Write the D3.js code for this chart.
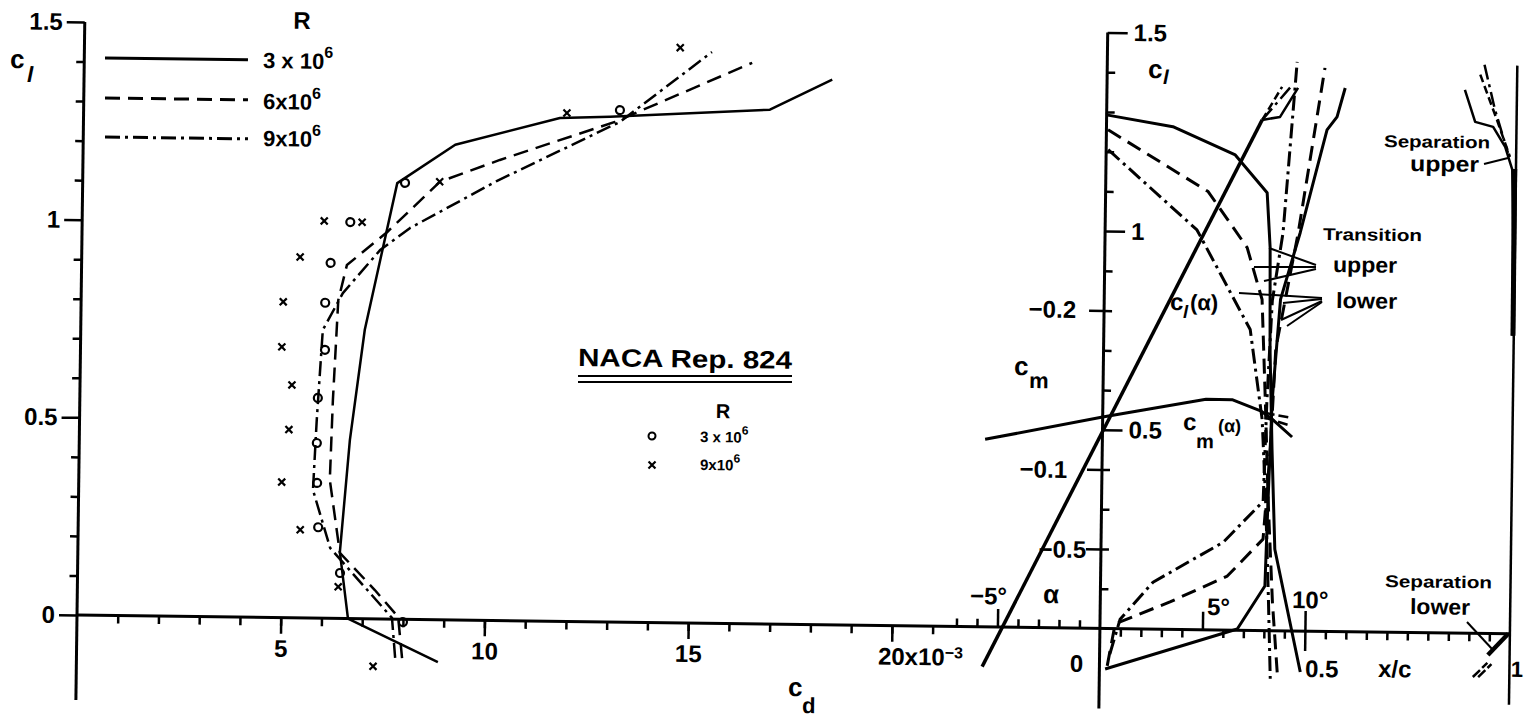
<!DOCTYPE html>
<html>
<head>
<meta charset="utf-8">
<script src="https://cdn.jsdelivr.net/npm/d3@7"></script>
<style>
  body { margin: 0; background: #fff; }
  text { font-family: "Liberation Sans", Arial, sans-serif; font-weight: bold; fill: #000; }
</style>
</head>
<body>
<script>
(function() {
  'use strict';

  var width = 1524, height = 724,
      tilt = 0.75;   // the scanned sheet sits a little turned

  // drag polars: cd (x 1e-3), cl
  var polar3 = [[8.87,-0.107],[6.65,0],[6.43,0.168],[6.64,0.452],[6.97,0.731],[7.72,1.103],[9.13,1.202],[11.69,1.273],[12.92,1.278],[16.84,1.301],[18.36,1.379]];
  var polar6 = [[7.99,-0.098],[7.88,0.006],[7.30,0.073],[6.43,0.166],[6.16,0.35],[6.21,0.552],[6.31,0.805],[6.51,0.894],[7.49,0.979],[8.77,1.108],[10.23,1.165],[13.04,1.265],[16.39,1.419]];
  var polar9 = [[7.82,-0.098],[7.73,0.003],[6.19,0.178],[5.75,0.324],[5.82,0.501],[5.94,0.729],[6.42,0.823],[7.32,0.933],[8.05,0.99],[10.17,1.112],[13.16,1.265],[15.4,1.445]];

  // NACA Rep. 824 test points
  var test3 = [[7.91,1.104],[6.58,1.003],[6.11,0.899],[5.99,0.798],[6.0,0.679],[5.84,0.557],[5.83,0.443],[5.85,0.342],[5.89,0.23],[6.44,0.115],[8.0,-0.007],[13.16,1.295]];
  var test9 = [[6.87,1.003],[5.94,1.005],[5.36,0.913],[4.96,0.799],[4.94,0.685],[5.2,0.589],[5.14,0.476],[4.98,0.343],[5.45,0.223],[6.4,0.08],[7.28,-0.12],[8.76,1.108],[11.86,1.286],[14.62,1.455]];

  // alpha (deg) vs cl and cm
  var clAlpha  = [[-5.72,-0.10],[7.59,1.285]];
  var clAlpha3 = [[7.59,1.285],[8.46,1.293],[9.32,1.367]];
  var clAlpha6 = [[7.59,1.285],[8.54,1.369]];
  var clAlpha9 = [[7.59,1.285],[8.93,1.367]];
  var cmAlpha3 = [[-5.72,-0.118],[0,-0.133],[5.03,-0.145],[6.3,-0.145],[7.73,-0.138],[8.28,-0.133],[9.25,-0.122]];
  var cmAlpha6 = [[7.9,-0.137],[9.2,-0.134]];
  var cmAlpha9 = [[7.9,-0.134],[9.2,-0.129]];

  // transition and separation: x/c, cl
  var transUpper3 = [[0.003,1.292],[0.162,1.265],[0.315,1.196],[0.394,1.102],[0.403,0.964],[0.406,0.708],[0.414,0.457],[0.424,0.205],[0.49,-0.103]];
  var transLower3 = [[0.014,-0.102],[0.301,-0.008],[0.335,0.003],[0.401,0.112],[0.406,0.331],[0.413,0.582],[0.43,0.834],[0.476,1.003],[0.506,1.129],[0.538,1.262],[0.562,1.295],[0.581,1.368]];
  var transUpper6 = [[0.004,1.255],[0.25,1.103],[0.347,0.963],[0.385,0.833],[0.396,0.582],[0.406,0.331],[0.42,0.07],[0.435,-0.12]];
  var transLower6 = [[0.019,-0.094],[0.037,0.012],[0.17,0.069],[0.309,0.136],[0.395,0.23],[0.41,0.46],[0.42,0.71],[0.471,1.002],[0.531,1.418]];
  var transUpper9 = [[0.005,1.205],[0.224,1.006],[0.357,0.757],[0.389,0.531],[0.40,0.33],[0.41,0.08],[0.417,-0.121]];
  var transLower9 = [[0.025,-0.064],[0.049,0.024],[0.128,0.118],[0.298,0.221],[0.394,0.325],[0.40,0.58],[0.41,0.83],[0.434,1.002],[0.463,1.432]];
  var sepUpper3 = [[0.873,1.367],[0.899,1.287],[0.943,1.275],[0.973,1.225],[0.991,1.168],[0.995,0.992],[0.997,0.75]];
  var sepUpper6 = [[0.91,1.406],[0.952,1.293],[0.985,1.2]];
  var sepUpper9 = [[0.92,1.431],[0.947,1.318],[0.98,1.21]];
  var sepLower3 = [[0.996,0],[0.947,-0.054]];
  var sepLower6 = [[0.911,-0.11],[0.946,-0.074]];
  var sepLower9 = [[0.924,-0.11],[0.956,-0.077]];

  // ticks
  var cdTicks = d3.range(1, 22), cdLabels = [5, 10, 15, 20];
  var clMinor = d3.range(1, 15).filter(function(i) { return i % 5; }).map(function(i) { return i / 10; });
  var clLabels = [0, 0.5, 1, 1.5];
  var alphaMinor = [-7, -6, -4, -3, -2, -1];
  var xcMinor = d3.range(1, 20).filter(function(i) { return i !== 5 && i !== 10; }).map(function(i) { return i / 20; });
  var cmTicks = [-0.2, -0.1, -0.05];

  var svg = d3.select("body").append("svg")
              .attr("width", width)
              .attr("height", height);
  var g = svg.append("g").attr("transform", "rotate(" + tilt + ",76,615)");

  var x  = d3.scaleLinear().domain([0, 20]).range([77, 892]),
      y  = d3.scaleLinear().domain([0, 1.5]).range([615, 22]),
      a  = d3.scaleLinear().domain([0, 10]).range([1100, 1305]),
      xc = d3.scaleLinear().domain([0, 1]).range([1100, 1510]),
      y2 = d3.scaleLinear().domain([0, 1.5]).range([615, 19]),
      cm = d3.scaleLinear().domain([0, -0.25]).range([615, y2(1)]);

  var dashed = "15,8", dashdot = "15,5,3,5";

  // page position -> position inside the turned group
  function un(px, py) {
    var t = tilt * Math.PI / 180, dx = px - 76, dy = py - 615;
    return [76 + dx * Math.cos(t) + dy * Math.sin(t), 615 - dx * Math.sin(t) + dy * Math.cos(t)];
  }
  function note(px, py, s, size, anchor) {
    var p = un(px, py);
    return g.append("text").attr("x", p[0]).attr("y", p[1])
            .attr("font-size", size).attr("text-anchor", anchor || "start").text(s);
  }
  function sup(t, s, size, dy) {
    t.append("tspan").attr("font-size", size).attr("dy", dy).text(s);
    return t;
  }
  function rule(x1, y1, x2, y2_, w) {
    var p = un(x1, y1), q = un(x2, y2_);
    g.append("line").attr("x1", p[0]).attr("y1", p[1]).attr("x2", q[0]).attr("y2", q[1])
     .attr("stroke", "#000").attr("stroke-width", w || 2);
  }
  function curve(data, xs, ys, dash, w) {
    g.append("path").datum(data)
     .attr("d", d3.line().x(function(d) { return xs(d[0]); }).y(function(d) { return ys(d[1]); }))
     .attr("fill", "none").attr("stroke", "#000")
     .attr("stroke-width", w || 2.5)
     .attr("stroke-dasharray", dash || null)
     .attr("stroke-linejoin", "round");
  }
  function ticks(axis, tx, ty) {
    return g.append("g").attr("transform", "translate(" + tx + "," + ty + ")")
            .call(axis)
            .call(function(s) { s.select(".domain").remove(); })
            .attr("font-size", 24).attr("stroke-width", 2.5);
  }

  // axis lines
  g.append("line").attr("x1", x(0)).attr("x2", xc(1)).attr("y1", y(0)).attr("y2", y(0))
   .attr("stroke", "#000").attr("stroke-width", 3);
  g.append("line").attr("x1", x(0)).attr("x2", x(0)).attr("y1", y(1.5)).attr("y2", 700)
   .attr("stroke", "#000").attr("stroke-width", 3);
  g.append("line").attr("x1", xc(0)).attr("x2", xc(0)).attr("y1", y2(1.5)).attr("y2", 695)
   .attr("stroke", "#000").attr("stroke-width", 3);
  g.append("line").attr("x1", xc(1)).attr("x2", xc(1)).attr("y1", y2(1.43)).attr("y2", 686)
   .attr("stroke", "#000").attr("stroke-width", 2.5);

  // left panel ticks
  ticks(d3.axisLeft(y).tickValues(clMinor).tickSize(8).tickFormat(""), x(0), 0);
  ticks(d3.axisLeft(y).tickValues(clLabels).tickSize(18).tickPadding(4).tickFormat(d3.format("")), x(0), 0);
  ticks(d3.axisBottom(x).tickValues(cdTicks).tickSize(8).tickFormat(""), 0, y(0));
  var cdAx = ticks(d3.axisBottom(x).tickValues(cdLabels).tickSize(16).tickPadding(6)
                   .tickFormat(function(d) { return d === 20 ? "20x10" : d; }), 0, y(0));
  cdAx.selectAll("text").filter(function(d) { return d === 20; })
      .attr("text-anchor", "start").attr("x", -14)
      .append("tspan").attr("dy", "-0.45em").attr("font-size", 16).text("\u22123");

  // right panel ticks
  ticks(d3.axisTop(a).tickValues(alphaMinor).tickSize(8).tickFormat(""), 0, y(0));
  ticks(d3.axisTop(a).tickValues([-5, 5]).tickSize(18).tickFormat(""), 0, y(0));
  ticks(d3.axisTop(a).tickValues([10]).tickSize(20).tickFormat(""), 0, y(0));
  ticks(d3.axisBottom(xc).tickValues(xcMinor).tickSize(8).tickFormat(""), 0, y(0));
  ticks(d3.axisBottom(xc).tickValues([0.5]).tickSize(20).tickFormat(""), 0, y(0));
  ticks(d3.axisRight(y2).tickValues(clMinor).tickSize(8).tickFormat(""), xc(0), 0);
  ticks(d3.axisRight(y2).tickValues([0.5, 1, 1.5]).tickSize(20).tickPadding(6).tickFormat(d3.format("")), xc(0), 0);
  ticks(d3.axisLeft(cm).tickValues(cmTicks).tickSize(15).tickFormat(""), xc(0), 0);

  // drag polars
  curve(polar3, x, y);
  curve(polar6, x, y, dashed);
  curve(polar9, x, y, dashdot);

  g.selectAll(".o3").data(test3).enter().append("circle")
   .attr("cx", function(d) { return x(d[0]); })
   .attr("cy", function(d) { return y(d[1]); })
   .attr("r", 4).attr("fill", "none").attr("stroke", "#000").attr("stroke-width", 2.2);
  g.selectAll(".x9").data(test9).enter().append("path")
   .attr("transform", function(d) { return "translate(" + x(d[0]) + "," + y(d[1]) + ")"; })
   .attr("d", "M-3.5,-3.5L3.5,3.5M-3.5,3.5L3.5,-3.5")
   .attr("stroke", "#000").attr("stroke-width", 2.2);

  // lift and moment curves
  curve(clAlpha, a, y2, null, 3.5);
  curve(clAlpha3, a, y2);
  curve(clAlpha6, a, y2, "8,4");
  curve(clAlpha9, a, y2, dashdot);
  curve(cmAlpha3, a, cm, null, 3);
  curve(cmAlpha6, a, cm, "10,4");
  curve(cmAlpha9, a, cm, "10,4");

  // transition
  curve(transUpper3, xc, y2, null, 3);
  curve(transLower3, xc, y2, null, 3);
  curve(transUpper6, xc, y2, dashed, 3);
  curve(transLower6, xc, y2, dashed, 3);
  curve(transUpper9, xc, y2, dashdot, 3);
  curve(transLower9, xc, y2, dashdot, 3);

  // separation
  curve(sepUpper3, xc, y2);
  curve(sepUpper6, xc, y2, "8,4");
  curve(sepUpper9, xc, y2, dashdot);
  curve([[0.997, 1.17], [0.998, 0.75]], xc, y2, null, 5);
  curve(sepLower3, xc, y2, null, 4.5);
  curve(sepLower6, xc, y2, "10,3");
  curve(sepLower9, xc, y2, "10,3");

  // left panel texts
  note(10, 68, "c", 26);
  note(27, 82, "l", 22).attr("font-style", "italic");
  note(302, 29, "R", 24, "middle");
  [[58, 68, "3 x 10"], [98, 109, "6x10"], [137, 146, "9x10"]].forEach(function(r, i) {
    var p = un(105, r[0]), q = un(248, r[0]);
    g.append("line").attr("x1", p[0]).attr("x2", q[0]).attr("y1", p[1]).attr("y2", p[1])
     .attr("stroke", "#000").attr("stroke-width", 3)
     .attr("stroke-dasharray", [null, dashed, dashdot][i]);
    sup(note(263, r[1], r[2], 22), "6", 16, -11);
  });

  var t1 = note(578, 366, "NACA Rep. 824", 25);
  t1.attr("textLength", 214).attr("lengthAdjust", "spacingAndGlyphs");
  rule(578, 376, 792, 376, 2);
  rule(578, 382, 792, 382, 2);
  note(723, 418, "R", 20, "middle");
  sup(note(700, 442, "3 x 10", 15), "6", 12, -8);
  sup(note(700, 470, "9x10", 15), "6", 12, -8);
  var po = un(652, 436);
  g.append("circle").attr("cx", po[0]).attr("cy", po[1]).attr("r", 3.5)
   .attr("fill", "none").attr("stroke", "#000").attr("stroke-width", 2);
  var px = un(652, 465);
  g.append("path").attr("transform", "translate(" + px[0] + "," + px[1] + ")")
   .attr("d", "M-3.5,-3.5L3.5,3.5M-3.5,3.5L3.5,-3.5").attr("stroke", "#000").attr("stroke-width", 2.2);
  note(788, 696, "c", 26);
  note(802, 713, "d", 22);

  // right panel texts
  note(1148, 78, "c", 26);
  note(1163, 84, "l", 20).attr("font-style", "italic");
  note(1076, 318, "\u22120.2", 24, "end");
  note(1067, 478, "\u22120.1", 24, "end");
  note(1086, 558, "\u22120.5", 24, "end");
  note(1083, 672, "0", 24, "end");
  note(1014, 375, "c", 26);
  note(1029, 388, "m", 22);
  note(970, 604, "\u22125\u00b0", 24);
  note(1043, 603, "\u03b1", 26);
  note(1207, 615, "5\u00b0", 24);
  note(1292, 608, "10\u00b0", 24);
  note(1305, 677, "0.5", 24);
  note(1378, 677, "x/c", 24);
  note(1523, 677, "1", 22, "end");

  note(1323, 240, "Transition", 17).attr("textLength", 99).attr("lengthAdjust", "spacingAndGlyphs");
  note(1333, 272, "upper", 22).attr("textLength", 64).attr("lengthAdjust", "spacingAndGlyphs");
  note(1336, 308, "lower", 22).attr("textLength", 61).attr("lengthAdjust", "spacingAndGlyphs");
  [[1316, 265, 1269, 248], [1316, 267, 1254, 267], [1316, 269, 1264, 281],
   [1322, 298, 1239, 293], [1322, 299, 1283, 303], [1322, 301, 1281, 320], [1322, 302, 1287, 326]]
    .forEach(function(r) { rule(r[0], r[1], r[2], r[3], 2); });

  note(1170, 310, "c", 24);
  note(1183, 318, "l", 18).attr("font-style", "italic");
  note(1190, 310, "(\u03b1)", 22);
  note(1183, 430, "c", 24);
  note(1196, 448, "m", 20);
  note(1218, 432, "(\u03b1)", 18);

  note(1384, 147, "Separation", 17).attr("textLength", 106).attr("lengthAdjust", "spacingAndGlyphs");
  note(1410, 171, "upper", 22).attr("textLength", 69).attr("lengthAdjust", "spacingAndGlyphs");
  rule(1484, 164, 1508, 158, 2);
  note(1385, 587, "Separation", 17).attr("textLength", 107).attr("lengthAdjust", "spacingAndGlyphs");
  note(1410, 614, "lower", 22).attr("textLength", 60).attr("lengthAdjust", "spacingAndGlyphs");
  rule(1467, 622, 1493, 650, 2);

})();
</script>
</body>
</html>
